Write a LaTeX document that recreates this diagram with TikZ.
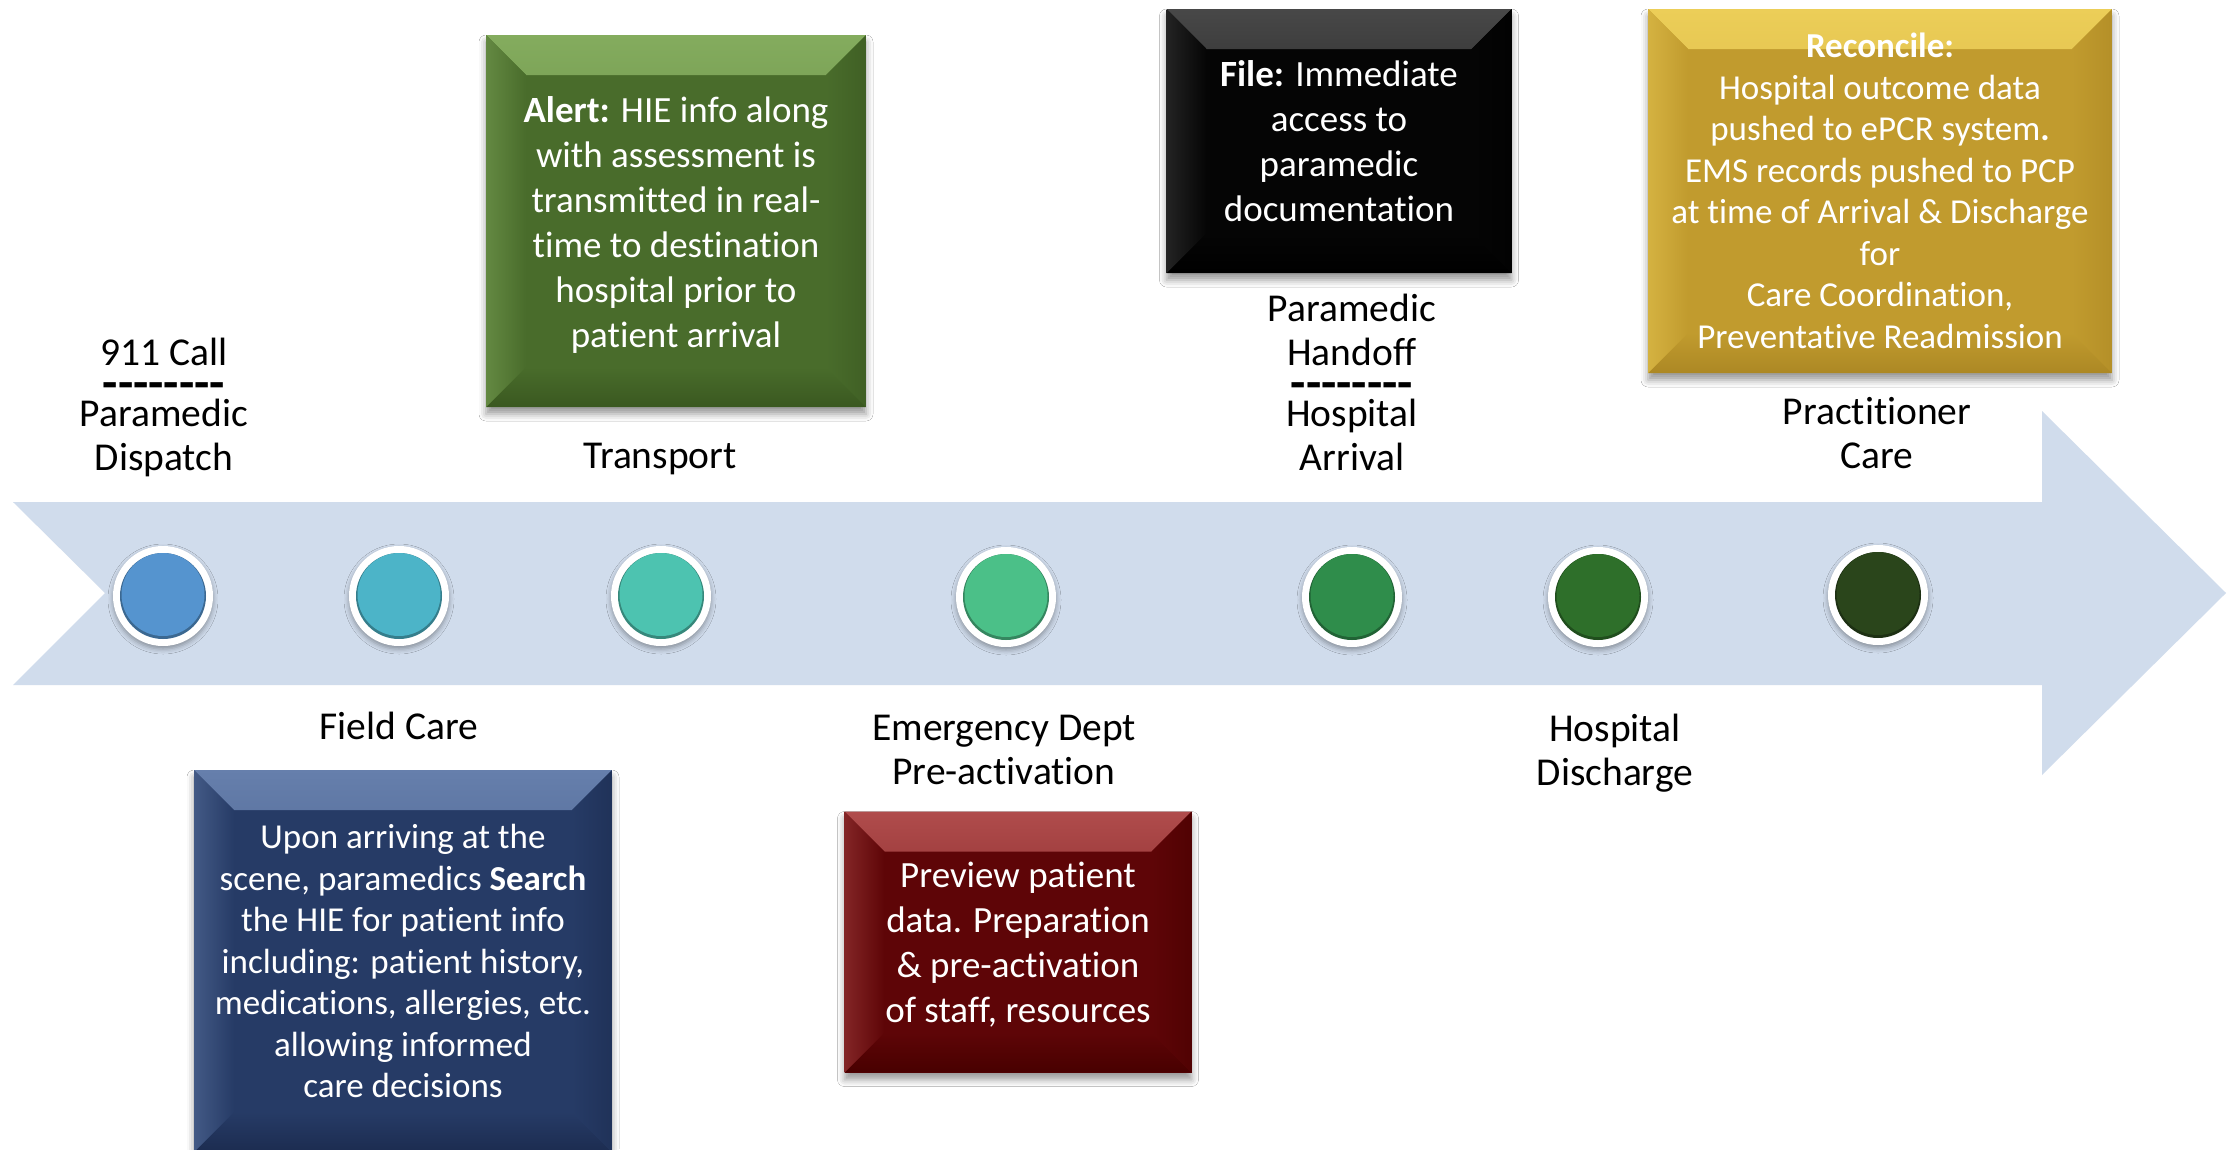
\documentclass[tikz,border=0pt]{standalone}
\usepackage{fontspec}
\setmainfont{Carlito}[Ligatures={TeX,NoCommon}]
\usetikzlibrary{shadows.blur}
\definecolor{bandc}{RGB}{208,220,236}
\definecolor{c1}{RGB}{85,148,207}
\definecolor{c2}{RGB}{76,180,200}
\definecolor{c3}{RGB}{77,195,176}
\definecolor{c4}{RGB}{75,192,136}
\definecolor{c5}{RGB}{47,141,75}
\definecolor{c6}{RGB}{46,111,42}
\definecolor{c7}{RGB}{42,69,27}
\definecolor{grnM}{RGB}{73,108,43}
\definecolor{grnL}{RGB}{132,172,94}
\definecolor{grnD}{RGB}{58,88,32}
\definecolor{blkM}{RGB}{5,5,5}
\definecolor{blkL}{RGB}{72,72,72}
\definecolor{blkD}{RGB}{0,0,0}
\definecolor{gldM}{RGB}{193,155,46}
\definecolor{gldL}{RGB}{236,206,88}
\definecolor{gldD}{RGB}{172,136,36}
\definecolor{navM}{RGB}{38,59,102}
\definecolor{navL}{RGB}{102,127,172}
\definecolor{navD}{RGB}{28,44,80}
\definecolor{redM}{RGB}{94,5,7}
\definecolor{redL}{RGB}{176,76,76}
\definecolor{redD}{RGB}{72,0,0}
\newcommand\dashrow{{\fontsize{50}{44}\selectfont\bfseries -{}-{}-{}-{}-{}-{}-{}-}}
\tikzset{
  lab/.style={font=\fontsize{39.5}{44}\selectfont, align=center, inner sep=0pt, text=black},
  dot/.style={circle, minimum size=100pt, inner sep=0pt, fill=white,
    blur shadow={shadow xshift=0pt, shadow yshift=-3pt, shadow blur radius=5pt, shadow opacity=35},
    path picture={
      \fill[#1!70!black] (path picture bounding box.center) circle (43pt);
      \fill[#1] ([yshift=1.5pt]path picture bounding box.center) circle (41.5pt);
    }},
  bevelbox/.style n args={3}{rectangle, inner sep=0pt, fill=#1, text=white, align=center,
    blur shadow={shadow xshift=0pt, shadow yshift=-7pt, shadow blur radius=7pt, shadow opacity=40},
    path picture={
      \def\bv{40pt}
      \shade[top color=#2, bottom color=#1]
        (path picture bounding box.north west) -- (path picture bounding box.north east)
        -- ([xshift=-\bv,yshift=-\bv]path picture bounding box.north east)
        -- ([xshift=\bv,yshift=-\bv]path picture bounding box.north west) -- cycle;
      \shade[top color=#1, bottom color=#3]
        (path picture bounding box.south west) -- (path picture bounding box.south east)
        -- ([xshift=-\bv,yshift=\bv]path picture bounding box.south east)
        -- ([xshift=\bv,yshift=\bv]path picture bounding box.south west) -- cycle;
      \shade[left color=#2!45!#1, right color=#1]
        (path picture bounding box.north west) -- ([xshift=\bv,yshift=-\bv]path picture bounding box.north west)
        -- ([xshift=\bv,yshift=\bv]path picture bounding box.south west)
        -- (path picture bounding box.south west) -- cycle;
      \shade[left color=#1, right color=#3!60!#1]
        (path picture bounding box.north east) -- ([xshift=-\bv,yshift=-\bv]path picture bounding box.north east)
        -- ([xshift=-\bv,yshift=\bv]path picture bounding box.south east)
        -- (path picture bounding box.south east) -- cycle;
    }},
  bt37/.style={font=\fontsize{37}{45}\selectfont},
  bt37w/.style={font=\fontsize{37}{45}\selectfont},
  bt35/.style={font=\fontsize{35}{41.5}\selectfont},
  bt37r/.style={font=\fontsize{37}{44.7}\selectfont}
}
\begin{document}
\begin{tikzpicture}[x=1pt,y=-1pt]
\useasboundingbox (0,0) rectangle (2236,1149);
\fill[white] (0,0) rectangle (2236,1149);
% timeline arrow
\fill[bandc] (13,502) -- (2042,502) -- (2042,411) -- (2226,593) -- (2042,775)
  -- (2042,685) -- (13,685) -- (105,593) -- cycle;
% milestone dots
\node[dot=c1] (d1) at (163,596) {};
\node[dot=c2] (d2) at (399,596) {};
\node[dot=c3] (d3) at (661,596) {};
\node[dot=c4] (d4) at (1006,597) {};
\node[dot=c5] (d5) at (1352,597) {};
\node[dot=c6] (d6) at (1598,597) {};
\node[dot=c7] (d7) at (1878,595) {};
% labels
\node[lab] (l911) at (164,407) {911 Call\\[-10pt]\dashrow\\[-17pt]Paramedic\\Dispatch};
\node[lab] (ltrans) at (660,459) {Transport};
\node[lab] (lfield) at (399,726) {Field Care};
\node[lab] (lemerg) at (1004,750) {Emergency Dept\\Pre-activation};
\node[lab] (lhand) at (1352,382) {Paramedic\\Handoff\\[-10pt]\dashrow\\[-17pt]Hospital\\Arrival};
\node[lab] (ldisch) at (1615,753) {Hospital\\Discharge};
\node[lab] (lpract) at (1877,433) {Practitioner\\Care};
% boxes
\node[bevelbox={grnM}{grnL}{grnD}, bt37, minimum width=380pt, minimum height=372pt] (alert) at (676,221)
  {\\[-12pt]\textbf{Alert:} HIE info along\\with assessment is\\transmitted in real-\\time to destination\\hospital prior to\\patient arrival};
\node[bevelbox={blkM}{blkL}{blkD}, bt37w, minimum width=345pt, minimum height=264pt] (file) at (1339,141)
  {\textbf{File:} Immediate\\access to\\paramedic\\documentation};
\node[bevelbox={gldM}{gldL}{gldD}, bt35, minimum width=464pt, minimum height=364pt] (recon) at (1880,191)
  {\textbf{Reconcile:}\\Hospital outcome data\\pushed to ePCR system\textbf{.}\\EMS records pushed to PCP\\at time of Arrival \& Discharge\\for\\Care Coordination,\\Preventative Readmission};
\node[bevelbox={navM}{navL}{navD}, bt35, minimum width=418pt, minimum height=382pt] (search) at (403,961)
  {Upon arriving at the\\scene, paramedics \textbf{Search}\\the HIE for patient info\\including: patient history,\\medications, allergies, etc.\\allowing informed\\care decisions};
\node[bevelbox={redM}{redL}{redD}, bt37r, minimum width=347pt, minimum height=261pt] (prev) at (1018,942)
  {\\[-14pt]Preview patient\\data. Preparation\\\& pre-activation\\of staff, resources};
\end{tikzpicture}
\end{document}
